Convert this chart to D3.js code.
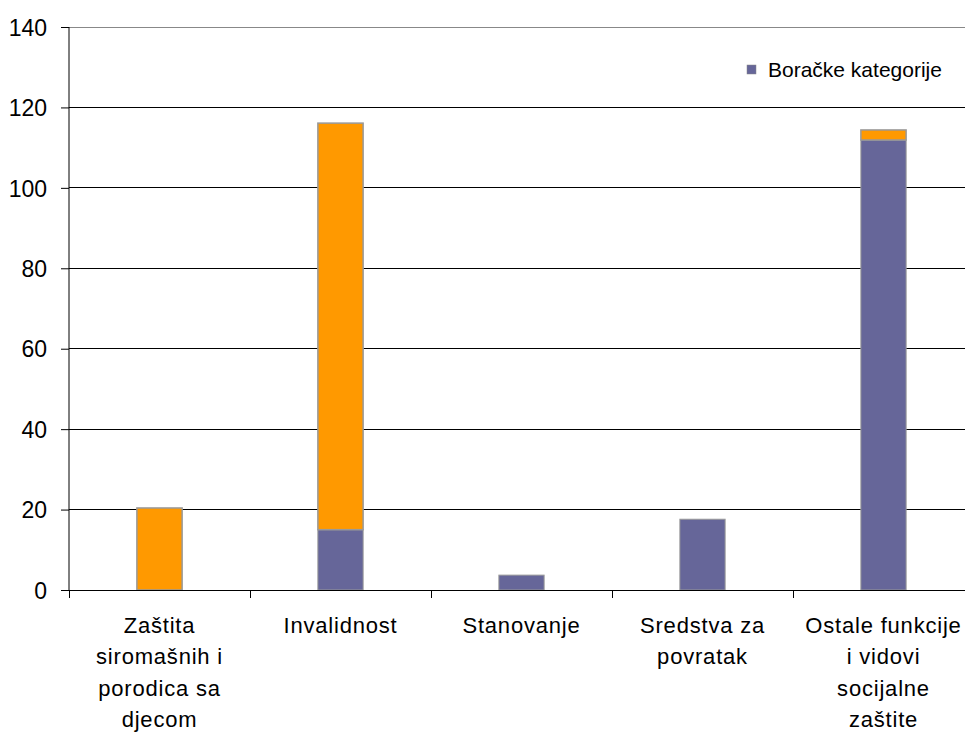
<!DOCTYPE html>
<html><head><meta charset="utf-8">
<script src="https://cdn.jsdelivr.net/npm/d3@7"></script>
<style>body{margin:0;background:#fff}svg{display:block}text{font-family:"Liberation Sans",Arial,sans-serif}</style>
</head><body><svg id="c" width="965" height="733"></svg>
<script>
const categories = [
  ["Zaštita","siromašnih i","porodica sa","djecom"],
  ["Invalidnost"],
  ["Stanovanje"],
  ["Sredstva za","povratak"],
  ["Ostale funkcije","i vidovi","socijalne","zaštite"]
];
const boracke = [0, 15, 3.7, 17.6, 111.9];
const ostalo = [20.4, 101.1, 0, 0, 2.5];
const yTicks = [0, 20, 40, 60, 80, 100, 120, 140];
const legendLabel = "Boračke kategorije";

const svg = d3.select("#c");
const m = {l: 69, t: 27, r: -9, b: 143};
const W = 965 - m.l - m.r, H = 733 - m.t - m.b;
const g = svg.append("g").attr("transform", `translate(${m.l},${m.t})`);
const x = d3.scaleBand().domain(d3.range(categories.length)).range([0, W]).paddingInner(0).paddingOuter(0);
const y = d3.scaleLinear().domain([0, 140]).range([H, 0]);

g.selectAll(".grid").data(yTicks.filter(t => t > 0)).join("line")
  .attr("x1", 0).attr("x2", W).attr("y1", d => y(d)).attr("y2", d => y(d))
  .attr("stroke", d => d === 140 ? "#888" : "#000").attr("stroke-width", 1).attr("shape-rendering", "crispEdges");

const bw = x.bandwidth() * 0.25;
const stack = categories.map((c, i) => ({i, b: boracke[i], o: ostalo[i]}));
g.selectAll(".b").data(stack.filter(d => d.b > 0)).join("rect")
  .attr("x", d => x(d.i) + (x.bandwidth() - bw) / 2).attr("width", bw)
  .attr("y", d => y(d.b)).attr("height", d => y(0) - y(d.b))
  .attr("fill", "#666699").attr("stroke", "#999").attr("stroke-width", 1);
g.selectAll(".o").data(stack.filter(d => d.o > 0)).join("rect")
  .attr("x", d => x(d.i) + (x.bandwidth() - bw) / 2).attr("width", bw)
  .attr("y", d => y(d.b + d.o)).attr("height", d => y(d.b) - y(d.b + d.o))
  .attr("fill", "#FF9900").attr("stroke", "#999").attr("stroke-width", 1.5);

const ya = g.append("g").call(d3.axisLeft(y).tickValues(yTicks).tickSize(8).tickPadding(14));
ya.select(".domain").attr("d", `M0,${H}V0`).attr("stroke", "#000");
ya.selectAll("line").attr("stroke", "#000");
ya.selectAll("text").attr("font-size", 23).attr("fill", "#000").attr("dy", "0.36em");

const xa = g.append("g").attr("transform", `translate(0,${H})`);
xa.append("line").attr("x1", 0).attr("x2", W).attr("stroke", "#000").attr("shape-rendering", "crispEdges");
xa.selectAll(".tk").data(d3.range(categories.length + 1)).join("line")
  .attr("x1", d => d * x.step()).attr("x2", d => d * x.step()).attr("y1", 0).attr("y2", 8)
  .attr("stroke", "#000").attr("shape-rendering", "crispEdges");
xa.selectAll(".lbl").data(categories).join("text")
  .attr("text-anchor", "middle").attr("font-size", 22).attr("letter-spacing", 0.8).attr("fill", "#000")
  .attr("transform", (d, i) => `translate(${x(i) + x.bandwidth() / 2},0)`)
  .selectAll("tspan").data(d => d).join("tspan")
  .attr("x", 0).attr("y", (d, j) => 43 + j * 31.3).text(d => d);

const lg = svg.append("g").attr("transform", "translate(747,65)");
lg.append("rect").attr("width", 9).attr("height", 9).attr("fill", "#666699").attr("stroke", "#888").attr("stroke-width", 0.5);
lg.append("text").attr("x", 21).attr("y", 12).attr("font-size", 21).attr("fill", "#000").text(legendLabel);
</script></body></html>
